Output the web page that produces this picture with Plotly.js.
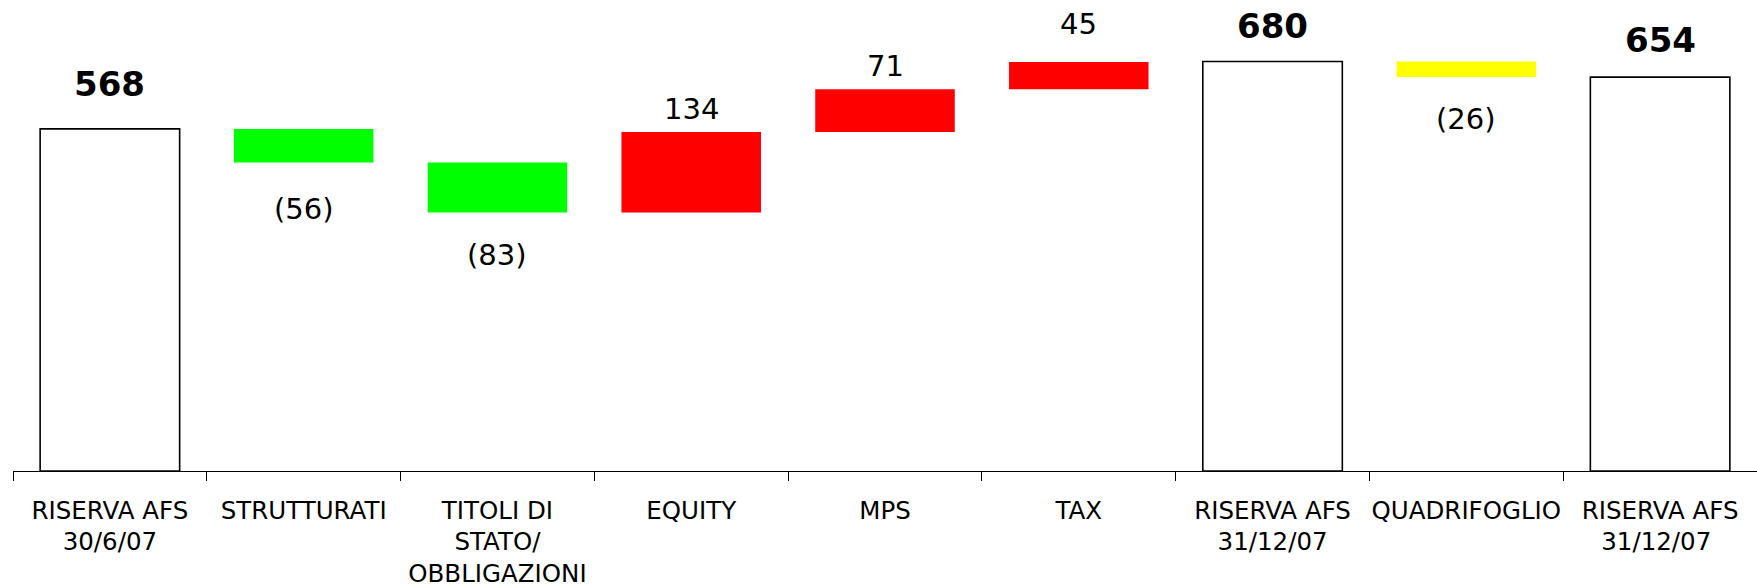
<!DOCTYPE html>
<html>
<head>
<meta charset="utf-8">
<script src="https://cdn.plot.ly/plotly-3.0.1.min.js"></script>
<style>html,body{margin:0;padding:0;background:#fff;}#chart{width:1757px;height:587px;}</style>
</head>
<body>
<div id="chart"></div>
<script>
// ---- data ----
const categories = ["RISERVA AFS<br>30/6/07", "STRUTTURATI", "TITOLI DI<br>STATO/<br>OBBLIGAZIONI", "EQUITY", "MPS", "TAX", "RISERVA AFS<br>31/12/07", "QUADRIFOGLIO", "RISERVA AFS<br>31/12/07 "];
const values = [568, -56, -83, 134, 71, 45, 680, -26, 654];
const measures = ["total", "relative", "relative", "relative", "relative", "relative", "total", "relative", "total"];

// ---- styling ----
const fillColors = ["#ffffff", "#00ff00", "#00ff00", "#ff0000", "#ff0000", "#ff0000", "#ffffff", "#ffff00", "#ffffff"];
const labelShift = [45, -46, -42, 23, 23, 38, 35, -42, 37];

const bases = [], heights = [], ends = [];
let running = 0;
values.forEach((v, i) => {
  if (measures[i] === "total") {
    bases.push(0); heights.push(v); running = v; ends.push(v);
  } else {
    bases.push(running); heights.push(v);
    ends.push(running + v);
    running += v;
  }
});

const lineWidths = measures.map(m => m === "total" ? 1.6 : 0);

const trace = {
  type: "bar",
  x: categories,
  y: heights,
  base: bases,
  width: 0.72,
  marker: {color: fillColors, line: {color: "#000", width: lineWidths}},
  hoverinfo: "skip"
};

const annotations = values.map((v, i) => {
  const isTotal = measures[i] === "total";
  const txt = v < 0 ? "(" + Math.abs(v) + ")" : String(v);
  return {
    x: categories[i], y: ends[i], xref: "x", yref: "y",
    text: isTotal ? "<b>" + txt + "</b>" : txt,
    showarrow: false, yanchor: "middle", xanchor: "center",
    yshift: labelShift[i],
    font: {family: "DejaVu Sans, sans-serif", size: isTotal ? 34 : 29, color: "#000"}
  };
});

const layout = {
  width: 1757, height: 587,
  margin: {l: 13, r: 0, t: 0, b: 116},
  paper_bgcolor: "#fff", plot_bgcolor: "#fff",
  showlegend: false,
  bargap: 0.28,
  xaxis: {
    type: "category", range: [-0.5, 8.5],
    showline: true, linecolor: "#000", linewidth: 1.2,
    ticks: "outside", tickson: "boundaries", ticklen: 9, tickcolor: "#000", tickwidth: 1,
    tickangle: 0,
    ticklabelstandoff: 17,
    tickfont: {family: "DejaVu Sans, sans-serif", size: 24.5, color: "#000"},
    showgrid: false, zeroline: false, fixedrange: true
  },
  yaxis: {
    range: [0, 782], visible: false, showgrid: false, zeroline: false, fixedrange: true
  },
  annotations: annotations
};

Plotly.newPlot("chart", [trace], layout, {displayModeBar: false, staticPlot: true});
</script>
</body>
</html>
